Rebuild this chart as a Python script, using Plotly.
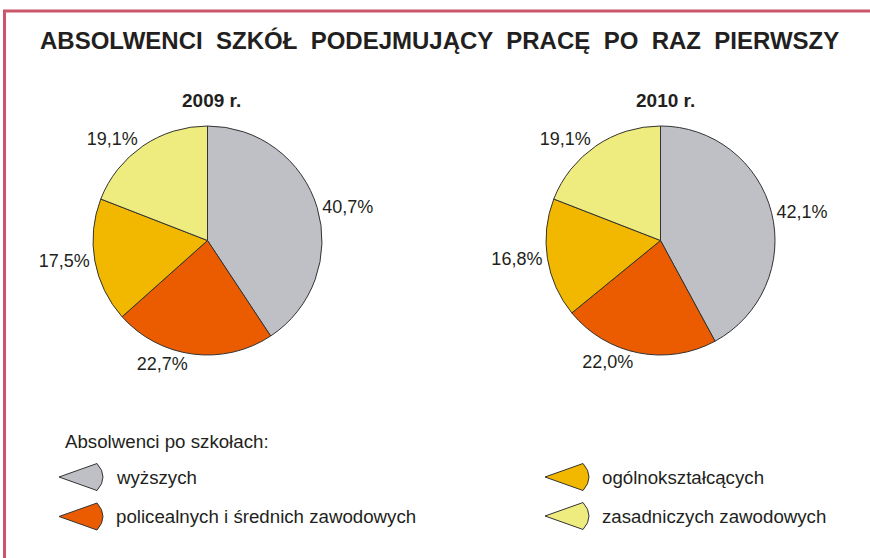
import plotly.graph_objects as go

W, H = 870, 558

title_words = ["ABSOLWENCI", "SZKÓŁ", "PODEJMUJĄCY", "PRACĘ", "PO", "RAZ", "PIERWSZY"]
categories = ["wyższych", "policealnych i średnich zawodowych",
              "ogólnokształcących", "zasadniczych zawodowych"]
values_2009 = [40.7, 22.7, 17.5, 19.1]
values_2010 = [42.1, 22.0, 16.8, 19.1]
years = ["2009 r.", "2010 r."]
legend_title = "Absolwenci po szkołach:"
colors = ["#BEC0C6", "#EB5C00", "#F2B800", "#EEEC7E"]

FONT = "Arial, 'Liberation Sans', sans-serif"
TXT = "#231F20"
BORDER = "#C9566A"


def px(x):
    return x / W


def py(y):
    return 1 - y / H


def fmt(v):
    return f"{v:.1f}".replace(".", ",") + "%"


fig = go.Figure()

pie_geo = [(207.5, 240.5, 114.5), (660.5, 240.5, 114.5)]
for vals, (cx, cy, r) in zip([values_2009, values_2010], pie_geo):
    fig.add_trace(go.Pie(
        labels=categories,
        values=vals,
        text=[fmt(v) for v in vals],
        textinfo="text",
        textposition="outside",
        sort=False,
        direction="clockwise",
        rotation=0,
        marker=dict(colors=colors, line=dict(color="#333333", width=1)),
        outsidetextfont=dict(family=FONT, size=18, color=TXT),
        domain=dict(x=[px(cx - r), px(cx + r)], y=[py(cy + r), py(cy - r)]),
        showlegend=False,
        hoverinfo="label+text",
    ))

title_text = " \u00a0".join(title_words)

annotations = [
    dict(x=px(439), y=py(41), text=f"<b>{title_text}</b>",
         font=dict(family=FONT, size=24, color=TXT)),
    dict(x=px(211), y=py(100), text=f"<b>{years[0]}</b>",
         font=dict(family=FONT, size=19, color=TXT)),
    dict(x=px(665), y=py(100), text=f"<b>{years[1]}</b>",
         font=dict(family=FONT, size=19, color=TXT)),
    dict(x=px(63), y=py(441), text=legend_title, xanchor="left",
         font=dict(family=FONT, size=18.7, color=TXT)),
]

shapes = [
    dict(type="line", x0=px(3), x1=px(870), y0=py(11), y1=py(11),
         line=dict(color=BORDER, width=3)),
    dict(type="line", x0=px(4.5), x1=px(4.5), y0=py(10), y1=py(558),
         line=dict(color=BORDER, width=3)),
]

legend_pos = [(59, 477), (59, 516.5), (545, 477), (545, 516)]
for cat, col, (x0, yc) in zip(categories, colors, legend_pos):
    tip = (px(x0), py(yc))
    top = (px(x0 + 38), py(yc - 13.5))
    bot = (px(x0 + 38), py(yc + 13.5))
    ctrl = (px(x0 + 50), py(yc))
    path = (f"M {tip[0]},{tip[1]} L {top[0]},{top[1]} "
            f"Q {ctrl[0]},{ctrl[1]} {bot[0]},{bot[1]} Z")
    shapes.append(dict(type="path", path=path, fillcolor=col,
                       line=dict(color="#333333", width=1),
                       xref="paper", yref="paper"))
    annotations.append(dict(x=px(x0 + 55), y=py(yc), text=cat, xanchor="left",
                            font=dict(family=FONT, size=18.7, color=TXT)))

for a in annotations:
    a.update(xref="paper", yref="paper", showarrow=False)
    a.setdefault("xanchor", "center")
    a.setdefault("yanchor", "middle")

fig.update_layout(
    width=W, height=H,
    margin=dict(l=0, r=0, t=0, b=0),
    paper_bgcolor="white",
    plot_bgcolor="white",
    annotations=annotations,
    shapes=shapes,
    showlegend=False,
)

fig.write_html("out.html",
               config={"displayModeBar": False},
               post_script="document.body.style.margin='0';document.body.style.overflow='hidden';")
